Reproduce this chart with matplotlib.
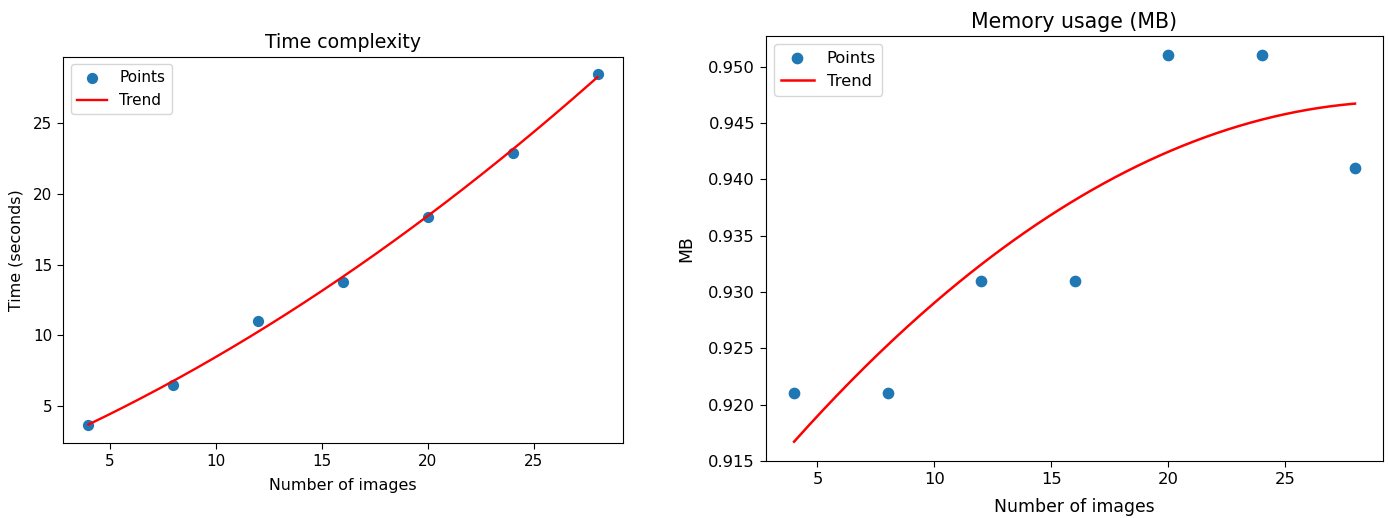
import matplotlib
matplotlib.use("Agg")
import matplotlib.pyplot as plt
import numpy as np

n_images = [4, 8, 12, 16, 20, 24, 28]
time_sec = [3.6, 6.5, 11.0, 13.8, 18.4, 22.9, 28.5]
memory_mb = [0.921, 0.921, 0.931, 0.931, 0.951, 0.951, 0.941]


def trend(x, y, deg=2):
    coef = np.polyfit(x, y, deg)
    xs = np.linspace(min(x), max(x), 200)
    return xs, np.polyval(coef, xs)


fig = plt.figure(figsize=(13.9, 5.18), dpi=100)

# left panel
ax1 = fig.add_axes([0.0453, 0.1448, 0.4029, 0.7461])
ax1.scatter(n_images, time_sec, s=50, label='Points')
xs, ys = trend(n_images, time_sec)
ax1.plot(xs, ys, color='red', lw=1.7, label='Trend')
ax1.set_title('Time complexity', fontsize=13.6)
ax1.set_xlabel('Number of images', fontsize=11.4, labelpad=7)
ax1.set_ylabel('Time (seconds)', fontsize=11.4, labelpad=7)
ax1.tick_params(labelsize=11, length=4.2)
ax1.legend(fontsize=11, loc='upper left')

# right panel
ax2 = fig.add_axes([0.5511, 0.110, 0.4439, 0.8205])
ax2.scatter(n_images, memory_mb, s=55, label='Points')
xs, ys = trend(n_images, memory_mb)
ax2.plot(xs, ys, color='red', lw=1.8, label='Trend')
ax2.set_title('Memory usage (MB)', fontsize=14.8)
ax2.set_xlabel('Number of images', fontsize=12.4, labelpad=8)
ax2.set_ylabel('MB', fontsize=12.4, labelpad=9)
ax2.tick_params(labelsize=11.8, length=4.4)
ax2.legend(fontsize=11.8, loc='upper left')

fig.savefig('out.png', dpi=100)
